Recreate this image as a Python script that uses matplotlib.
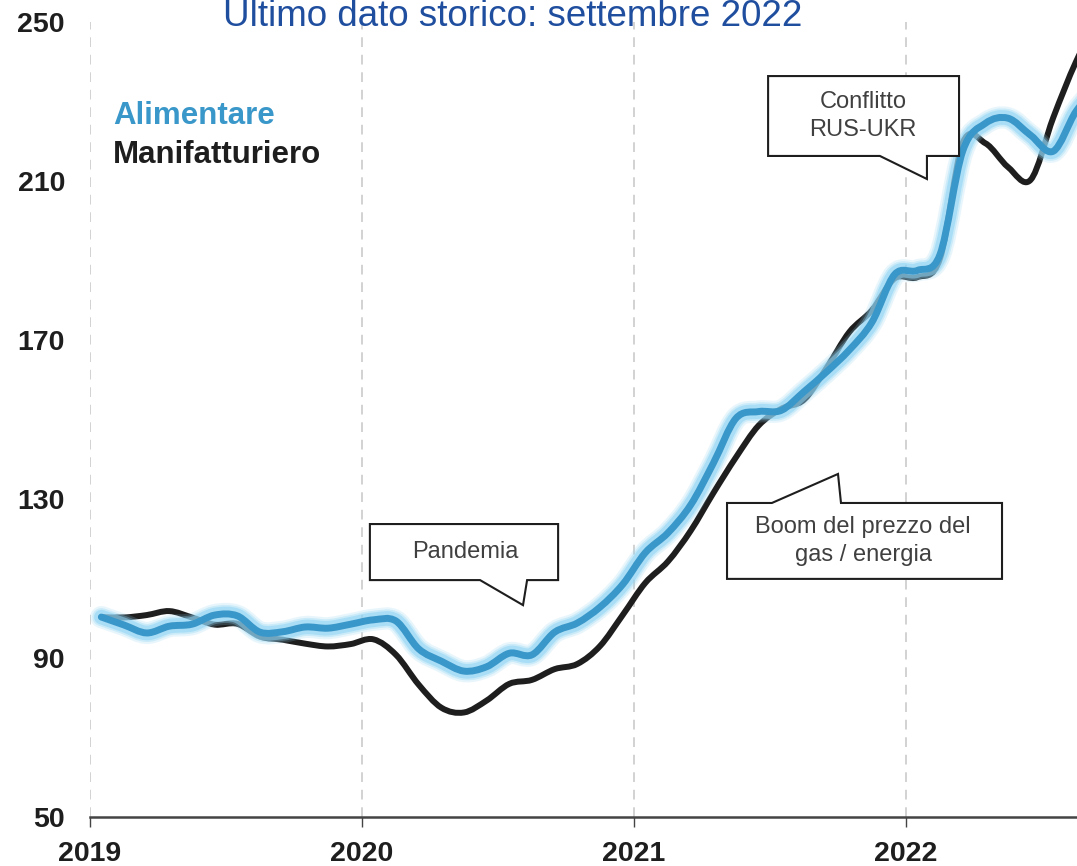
import numpy as np
import matplotlib
matplotlib.use("Agg")
from matplotlib import pyplot as plt
from matplotlib.path import Path
from matplotlib.patches import PathPatch, Polygon

plt.rcParams['font.family'] = ['Liberation Sans', 'DejaVu Sans']

# monthly index values, Jan 2019 - Sep 2022
alimentare = [100.3, 98.3, 96.3, 98.0, 98.5, 100.8, 100.6, 96.5, 96.6, 97.8, 97.5, 98.5,
              99.6, 99.3, 92.3, 89.2, 86.7, 87.8, 91.2, 90.8, 96.5, 98.8, 102.8, 108.5,
              116.5, 121.5, 128.5, 139.0, 150.3, 152.0, 152.3, 157.0, 162.0, 167.5, 174.5, 186.5,
              187.5, 191.5, 217.5, 224.5, 225.8, 221.5, 217.5, 227.5, 234.0]
manifatturiero = [100.3, 100.2, 100.8, 101.8, 100.2, 98.4, 98.6, 95.4, 94.6, 93.6, 92.9, 93.5,
                  94.7, 90.8, 83.3, 77.5, 76.3, 79.3, 83.5, 84.5, 87.2, 88.5, 93.0, 100.8,
                  108.9, 114.3, 122.0, 131.5, 140.5, 148.5, 152.7, 155.0, 163.0, 172.0, 177.5, 185.5,
                  185.8, 190.5, 219.5, 219.5, 213.5, 210.3, 226.0, 240.0, 251.0]
years = [2019, 2020, 2021, 2022]
yticks = [50, 90, 130, 170, 210, 250]

x = 2019 + (np.arange(len(alimentare)) + 0.5) / 12

BLUE = '#3a97c9'
GLOW = '#8fd4f4'
BLACK = '#1e1e1e'


def smooth_path(xs, ys):
    # Catmull-Rom style bezier through the points (like a "smoothed line")
    pts = np.column_stack([xs, ys])
    verts = [pts[0]]
    codes = [Path.MOVETO]
    n = len(pts)
    for i in range(n - 1):
        p0 = pts[i - 1] if i > 0 else pts[i]
        p1 = pts[i]
        p2 = pts[i + 1]
        p3 = pts[i + 2] if i + 2 < n else pts[i + 1]
        verts += [p1 + (p2 - p0) / 6, p2 - (p3 - p1) / 6, p2]
        codes += [Path.CURVE4] * 3
    return Path(verts, codes)


fig = plt.figure(figsize=(10.77, 8.66), dpi=100)
ax = fig.add_axes([90 / 1077, 1 - 817 / 866, 987 / 1077, 795 / 866])
ax.set_xlim(2019, 2019 + 987 / 272)
ax.set_ylim(50, 250)

p_man = smooth_path(x, manifatturiero)
p_ali = smooth_path(x, alimentare)

ax.add_patch(PathPatch(p_man, fill=False, edgecolor=BLACK, lw=4.3,
                       capstyle='round', joinstyle='round', zorder=3))
# glow under the blue line
for lw, a in [(16, 0.2), (13, 0.32), (10.5, 0.55)]:
    ax.add_patch(PathPatch(p_ali, fill=False, edgecolor=GLOW, lw=lw, alpha=a,
                           capstyle='round', joinstyle='round', zorder=3.5))
ax.add_patch(PathPatch(p_ali, fill=False, edgecolor=BLUE, lw=5,
                       capstyle='round', joinstyle='round', zorder=4))

# axes styling
for s in ['top', 'right', 'left']:
    ax.spines[s].set_visible(False)
ax.spines['bottom'].set_color('#444444')
ax.spines['bottom'].set_linewidth(1.8)
ax.set_xticks(years)
ax.set_xticklabels([str(y) for y in years], fontsize=20.5, fontweight='bold', color=BLACK)
ax.set_yticks(yticks)
ax.set_yticklabels([str(v) for v in yticks], fontsize=20.5, fontweight='bold', color=BLACK)
ax.tick_params(axis='x', length=7, width=1, color='#444444', pad=10)
ax.tick_params(axis='y', length=0, pad=18)
ax.grid(axis='x', color='#d2d2d2', linestyle=(0, (5, 4)), lw=1.4)
ax.grid(axis='y', visible=False)
ax.set_axisbelow(True)

# callout boxes
callouts = [
    ([(2020.029, 123.7), (2020.721, 123.7), (2020.721, 109.6), (2020.607, 109.6),
      (2020.592, 103.3), (2020.434, 109.6), (2020.029, 109.6)],
     (2020.379, 116.6), 'Pandemia'),
    ([(2021.493, 236.4), (2022.195, 236.4), (2022.195, 216.3), (2022.077, 216.3),
      (2022.077, 210.5), (2021.904, 216.3), (2021.493, 216.3)],
     (2021.842, 226.3), 'Conflitto\nRUS-UKR'),
    ([(2021.342, 129.0), (2021.507, 129.0), (2021.750, 136.3), (2021.761, 129.0),
      (2022.353, 129.0), (2022.353, 109.9), (2021.342, 109.9)],
     (2021.842, 119.4), 'Boom del prezzo del\ngas / energia'),
]
for verts, pos, label in callouts:
    ax.add_patch(Polygon(verts, closed=True, facecolor='white', edgecolor=BLACK,
                         lw=1.5, joinstyle='miter', zorder=6))
    ax.text(pos[0], pos[1], label, ha='center', va='center', fontsize=17,
            color='#404040', linespacing=1.35, zorder=7)

fig.text(113 / 1077, 1 - 116 / 866, 'Alimentare', fontsize=22.5, fontweight='bold',
         color=BLUE, va='center')
fig.text(113 / 1077, 1 - 155 / 866, 'Manifatturiero', fontsize=22.5, fontweight='bold',
         color=BLACK, va='center')
fig.text(513 / 1077, 1 - 26 / 866, 'Ultimo dato storico: settembre 2022', fontsize=26.5,
         color='#1f4e9f', ha='center', va='baseline')

fig.savefig('out.png', dpi=100)
